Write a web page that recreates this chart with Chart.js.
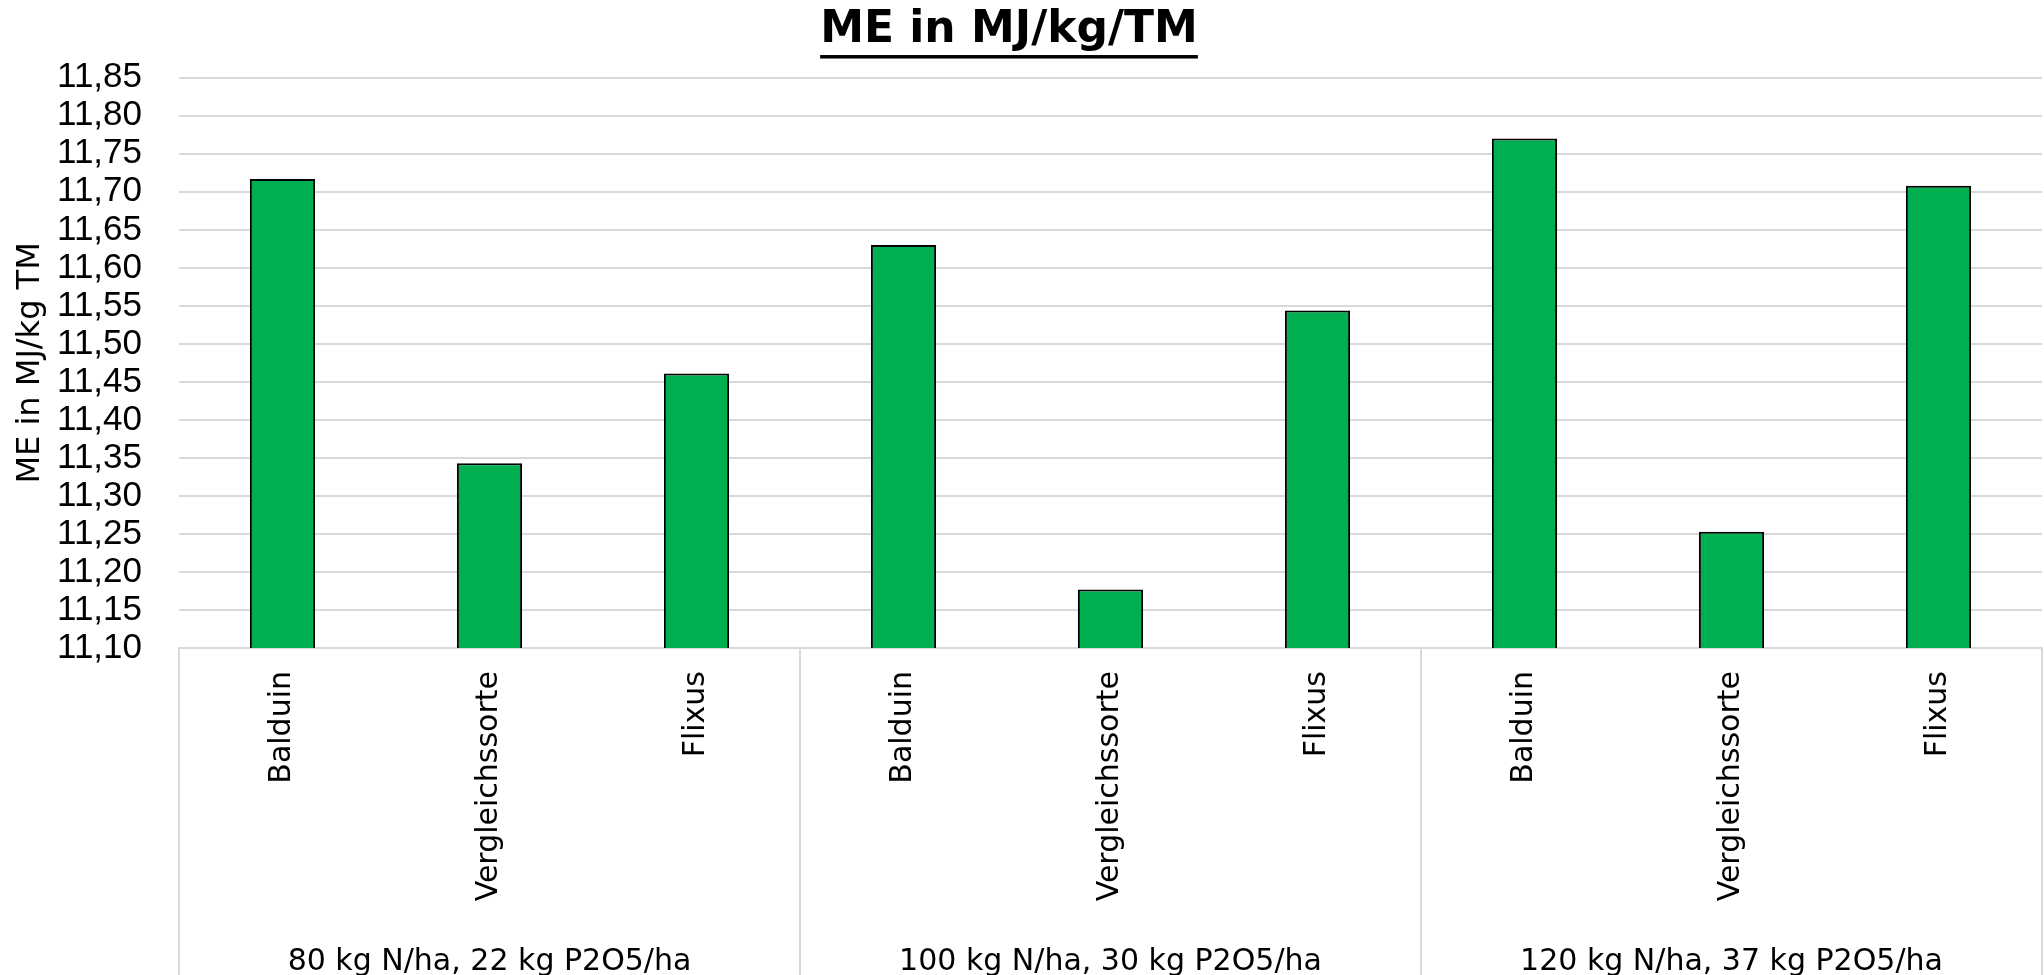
<!DOCTYPE html>
<html>
<head>
<meta charset="utf-8">
<script src="https://cdn.jsdelivr.net/npm/chart.js@4/dist/chart.umd.min.js"></script>
<style>
  html, body { margin: 0; padding: 0; background: #fff; }
  #wrap { width: 2044px; height: 975px; position: relative; }
</style>
</head>
<body>
<div id="wrap"><canvas id="chart"></canvas></div>
<script>
// Düngestufen (Gruppen) und Sorten
const groups = ["80 kg N/ha, 22 kg P2O5/ha", "100 kg N/ha, 30 kg P2O5/ha", "120 kg N/ha, 37 kg P2O5/ha"];
const varieties = ["Balduin", "Vergleichssorte", "Flixus"];

// ME in MJ/kg TM, je Gruppe: Balduin, Vergleichssorte, Flixus
const meValues = [11.717, 11.343, 11.461, 11.630, 11.177, 11.544, 11.770, 11.253, 11.708];

const yMin = 11.10;
const yMax = 11.85;
const yStep = 0.05;

const labels = [];
groups.forEach(() => varieties.forEach(v => labels.push(v)));

const gridGrey = "#d9d9d9";

// Titel unterstreichen
const titleUnderline = {
  id: "titleUnderline",
  afterDraw(chart) {
    const tb = chart.titleBlock;
    if (!tb) return;
    const ctx = chart.ctx;
    const f = tb.options.font;
    ctx.save();
    ctx.font = `bold ${f.size}px ${f.family}`;
    const w = ctx.measureText(tb.options.text).width;
    const cx = (tb.left + tb.right) / 2;
    const mid = tb.top + tb.options.padding.top + f.size * 1.2 / 2;
    ctx.fillStyle = "#000";
    ctx.fillRect(cx - w / 2, mid + f.size * 0.56, w, 3.5);
    ctx.restore();
  }
};

// Trennlinien zwischen den Gruppen unterhalb der Achse
const groupDividers = {
  id: "groupDividers",
  afterDraw(chart) {
    const x = chart.scales.x;
    const ctx = chart.ctx;
    ctx.save();
    ctx.strokeStyle = gridGrey;
    ctx.lineWidth = 2;
    for (let g = 0; g <= groups.length; g++) {
      const px = Math.round(x.getPixelForValue(g * varieties.length - 0.5));
      ctx.beginPath();
      ctx.moveTo(px, chart.chartArea.bottom);
      ctx.lineTo(px, chart.height);
      ctx.stroke();
    }
    ctx.restore();
  }
};

// feste Achsenmaße wie im Original
const fixWidth = w => scale => { scale.width = w; };
const fixHeight = h => scale => {
  scale.height = h;
  scale.paddingLeft = 0;
  scale.paddingRight = 0;
};

new Chart(document.getElementById("chart"), {
  type: "bar",
  data: {
    labels,
    datasets: [{
      data: meValues,
      backgroundColor: "#00b050",
      borderColor: "#000",
      borderWidth: 2,
      barPercentage: 0.315,
      categoryPercentage: 1.0
    }]
  },
  options: {
    responsive: true,
    maintainAspectRatio: false,
    animation: false,
    layout: { padding: { left: -24, right: 2, top: 0, bottom: 0 } },
    plugins: {
      legend: { display: false },
      tooltip: { enabled: false },
      title: {
        display: true,
        text: "ME in MJ/kg/TM",
        color: "#000",
        font: { family: "DejaVu Sans", size: 44, weight: "bold" },
        padding: { top: 4, bottom: 21 }
      }
    },
    scales: {
      y: {
        min: yMin,
        max: yMax,
        afterFit: fixWidth(203),
        border: { display: false },
        grid: { color: gridGrey, lineWidth: 2, drawTicks: false },
        ticks: {
          stepSize: yStep,
          autoSkip: false,
          padding: 37,
          color: "#000",
          font: { family: "Liberation Sans", size: 35 },
          callback: v => v.toFixed(2).replace(".", ",")
        },
        title: {
          display: true,
          text: "ME in MJ/kg TM",
          color: "#000",
          font: { family: "DejaVu Sans", size: 32 },
          padding: { top: 35, bottom: 0 }
        }
      },
      x: {
        afterFit: fixHeight(270),
        border: { display: true, color: gridGrey, width: 2 },
        grid: { display: false, drawTicks: false },
        ticks: {
          minRotation: 90,
          maxRotation: 90,
          autoSkip: false,
          padding: 23,
          color: "#000",
          font: { family: "DejaVu Sans", size: 30 }
        }
      },
      x2: {
        type: "category",
        position: "bottom",
        labels: groups,
        offset: true,
        afterFit: fixHeight(57),
        border: { display: false },
        grid: { display: false, drawTicks: false },
        ticks: {
          padding: 29,
          color: "#000",
          font: { family: "DejaVu Sans", size: 30, lineHeight: 1.0 }
        }
      }
    }
  },
  plugins: [titleUnderline, groupDividers]
});
</script>
</body>
</html>
